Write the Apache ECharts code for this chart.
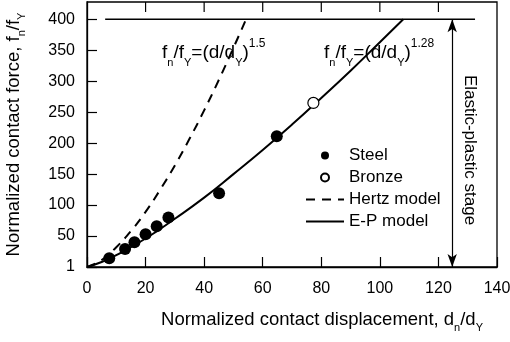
<!DOCTYPE html>
<html>
<head>
<meta charset="utf-8">
<script src="https://cdn.jsdelivr.net/npm/echarts@6/dist/echarts.min.js"></script>
<style>
  html, body { margin: 0; padding: 0; background: #fff; }
  #chart { width: 510px; height: 342px; }
</style>
</head>
<body>
<div id="chart"></div>
<script>
// measured points
const steelDisp = [7.6, 13.0, 16.2, 20.0, 23.8, 27.8, 45.1, 64.8];
const steelForce = [14, 29, 40, 53, 66, 80, 119, 211];
const bronzeDisp = [77.3];
const bronzeForce = [265];

// model curves
const hertzDisp = [0, 5, 10, 15, 20, 25, 30, 35, 40, 45, 50, 54.3];
const hertzForce = [0, 11, 32, 58, 89, 125, 164, 207, 253, 302, 354, 400];
const epDisp = [0, 5, 10, 20, 30, 40, 50, 60, 70, 80, 90, 100, 108];
const epForce = [0, 8, 19, 46, 78, 112, 150, 189, 230, 273, 317, 363, 400];

// elastic-plastic limit line and stage arrow
const limitDisp = [6.2, 132.5];
const limitForce = [400, 400];
const stageDisp = 124.7;
const stageRange = [0, 400];

const xTicks = { min: 0, max: 140, interval: 20 };
const yTicks = { min: 0, max: 428, interval: 50 };
const topTickValues = [20, 40, 60, 80, 100, 120];

const FONT = "'Liberation Sans', Arial, sans-serif";

function pairs(xs, ys) {
  return xs.map((x, i) => [x, ys[i]]);
}

let myChart = echarts.init(document.getElementById("chart"));

const subRich = {
  s: { fontSize: 11, lineHeight: 11, verticalAlign: "bottom", fontFamily: FONT, color: "#000" },
};

function formulaText(left, power) {
  return {
    type: "text",
    left: left,
    top: 38,
    style: {
      text: "{m|f}{s|n}{m|/f}{s|Y}{m|=(d/d}{s|Y}{m|)}{p|" + power + "}",
      fontFamily: FONT,
      rich: {
        m: { fontSize: 19, lineHeight: 30, fontFamily: FONT, fill: "#000" },
        s: { fontSize: 11, lineHeight: 11, verticalAlign: "bottom", fontFamily: FONT, fill: "#000" },
        p: { fontSize: 12, lineHeight: 12, verticalAlign: "top", fontFamily: FONT, fill: "#000" },
      },
    },
  };
}

let option = {
  backgroundColor: "#fff",
  animation: false,
  grid: {
    left: 87,
    right: 13,
    top: 2,
    bottom: 75,
    outerBoundsMode: "none",
    containLabel: false,
    show: true,
    borderColor: "#000",
    borderWidth: 1.3,
  },
  legend: {
    orient: "vertical",
    left: 300,
    top: 142,
    itemWidth: 38,
    itemHeight: 8,
    itemGap: 5,
    textStyle: { fontSize: 17, color: "#000", fontFamily: FONT, lineHeight: 17 },
    data: [
      { name: "Steel", icon: "circle", itemStyle: { color: "#000", opacity: 1 } },
      { name: "Bronze", icon: "circle" },
      { name: "Hertz model", itemStyle: { opacity: 0 } },
      { name: "E-P model", itemStyle: { opacity: 0 } },
    ],
  },
  xAxis: {
    type: "value",
    min: xTicks.min,
    max: xTicks.max,
    interval: xTicks.interval,
    name: "Normalized contact displacement, d{s|n}/d{s|Y}",
    nameLocation: "middle",
    nameGap: 40,
    nameTextStyle: {
      fontSize: 18.5,
      lineHeight: 26,
      color: "#000",
      fontFamily: FONT,
      padding: [0, 0, 0, 60],
      rich: subRich,
    },
    axisLine: { onZero: false, lineStyle: { color: "#000", width: 1.3 } },
    axisTick: { inside: true, length: 10, lineStyle: { color: "#000", width: 1.2 } },
    axisLabel: { fontSize: 16, color: "#000", fontFamily: FONT, margin: 14 },
    splitLine: { show: false },
  },
  yAxis: {
    type: "value",
    min: yTicks.min,
    max: yTicks.max,
    interval: yTicks.interval,
    name: "Normalized contact force, f{s|n}/f{s|Y}",
    nameLocation: "middle",
    nameGap: 60,
    nameTextStyle: {
      fontSize: 18.5,
      lineHeight: 26,
      color: "#000",
      fontFamily: FONT,
      rich: subRich,
    },
    axisLine: { show: true, onZero: false, lineStyle: { color: "#000", width: 1.3 } },
    axisTick: { show: true, inside: true, length: 10, lineStyle: { color: "#000", width: 1.2 } },
    axisLabel: {
      fontSize: 16,
      color: "#000",
      fontFamily: FONT,
      margin: 12,
      showMaxLabel: false,
      formatter: function (v) {
        return v === 0 ? "1" : String(v);
      },
    },
    splitLine: { show: false },
  },
  graphic: [
    formulaText(162, "1.5"),
    formulaText(324, "1.28"),
    {
      type: "text",
      x: 470,
      y: 150,
      rotation: -Math.PI / 2,
      style: {
        text: "Elastic-plastic stage",
        fontSize: 17,
        fontFamily: FONT,
        fill: "#000",
        align: "center",
        verticalAlign: "middle",
      },
    },
  ],
  series: [
    {
      name: "Steel",
      type: "scatter",
      symbol: "circle",
      symbolSize: 12,
      itemStyle: { color: "#000", opacity: 1 },
      data: pairs(steelDisp, steelForce),
      z: 5,
    },
    {
      name: "Bronze",
      type: "scatter",
      symbol: "circle",
      symbolSize: 11,
      itemStyle: { color: "#fff", borderColor: "#000", borderWidth: 1.2, opacity: 1 },
      data: pairs(bronzeDisp, bronzeForce),
      z: 5,
    },
    {
      name: "Hertz model",
      type: "line",
      smooth: true,
      showSymbol: false,
      symbol: "none",
      lineStyle: { color: "#000", width: 2, type: [9, 7] },
      itemStyle: { color: "#000" },
      data: pairs(hertzDisp, hertzForce),
    },
    {
      name: "E-P model",
      type: "line",
      smooth: true,
      showSymbol: false,
      symbol: "none",
      lineStyle: { color: "#000", width: 2 },
      itemStyle: { color: "#000" },
      data: pairs(epDisp, epForce),
    },
    {
      name: "limit",
      type: "line",
      symbol: "none",
      lineStyle: { color: "#000", width: 1.5 },
      data: pairs(limitDisp, limitForce),
      markLine: {
        silent: true,
        symbol: ["arrow", "arrow"],
        symbolSize: [7, 13],
        label: { show: false },
        lineStyle: { color: "#000", width: 1.2, type: "solid" },
        data: [[{ coord: [stageDisp, stageRange[0]] }, { coord: [stageDisp, stageRange[1]] }]],
      },
    },
    {
      // inward ticks along the top edge of the frame
      name: "topTicks",
      type: "custom",
      silent: true,
      clip: false,
      data: topTickValues.map((v) => [v, yTicks.max]),
      renderItem: function (params, api) {
        const p = api.coord([api.value(0), api.value(1)]);
        return {
          type: "line",
          shape: { x1: p[0], y1: p[1], x2: p[0], y2: p[1] + 10 },
          style: { stroke: "#000", lineWidth: 1.2 },
        };
      },
    },
  ],
};

myChart.setOption(option);
window.onresize = function () {
  myChart.resize();
};
</script>
</body>
</html>
